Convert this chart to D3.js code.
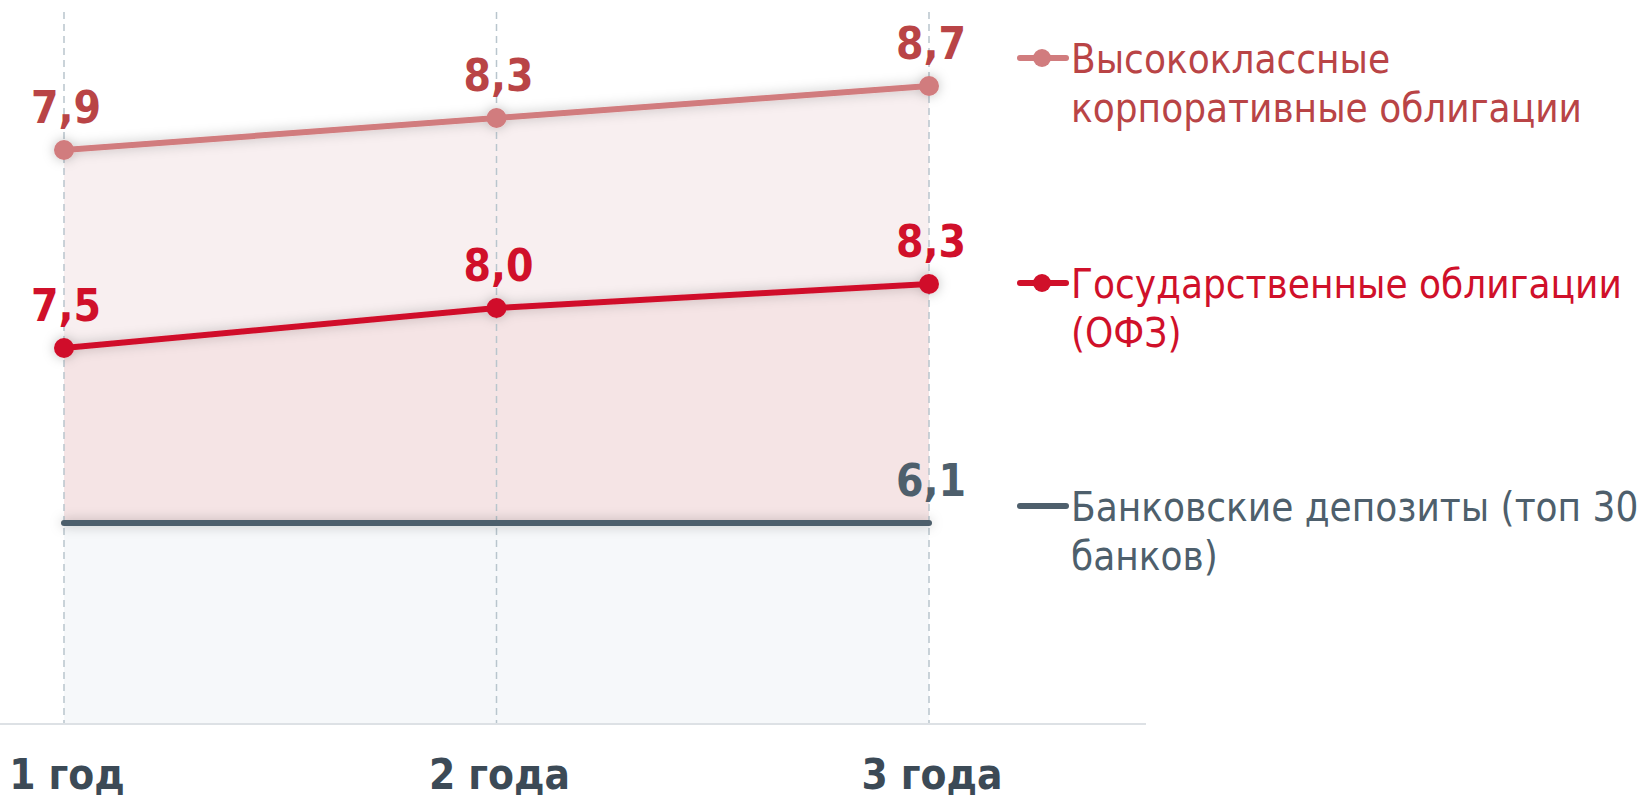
<!DOCTYPE html>
<html>
<head>
<meta charset="utf-8">
<script src="https://cdn.jsdelivr.net/npm/d3@7"></script>
<style>
  html, body { margin: 0; padding: 0; background: #fff; }
  svg { display: block; font-family: "DejaVu Sans Condensed", "DejaVu Sans", sans-serif; }
</style>
</head>
<body>
<div id="chart"></div>
<script>
// data
var categories = ["1 год", "2 года", "3 года"];
var corpValues = [7.9, 8.3, 8.7];
var ofzValues = [7.5, 8.0, 8.3];
var depoValues = [6.1, 6.1, 6.1];
var corpName = ["Высококлассные", "корпоративные облигации"];
var ofzName = ["Государственные облигации", "(ОФЗ)"];
var depoName = ["Банковские депозиты (топ 30", "банков)"];

var width = 1649, height = 800;
var axisY = 724;
var pxPerUnit = 80;

var svg = d3.select("#chart").append("svg")
    .attr("width", width)
    .attr("height", height);

// soft glow under lines; user space so the flat line still gets it
var defs = svg.append("defs");
var f = defs.append("filter").attr("id", "glow")
    .attr("filterUnits", "userSpaceOnUse")
    .attr("x", 0).attr("y", 0).attr("width", width).attr("height", height);
f.append("feDropShadow")
    .attr("dx", 0).attr("dy", 0)
    .attr("stdDeviation", 6)
    .attr("flood-color", "#000")
    .attr("flood-opacity", 0.25);

var x = d3.scalePoint().domain(categories).range([64, 929]);

// each series sits on its own band of the picture, same slope
function bandScale(base, basePx) {
    return d3.scaleLinear().domain([base, base + 1]).range([basePx, basePx - pxPerUnit]);
}

var series = [
    {name: corpName, values: corpValues, y: bandScale(7.9, 150),
     line: "#d17c7e", text: "#b94446", fill: "#f8eff0", dot: true, legendY: 58},
    {name: ofzName, values: ofzValues, y: bandScale(7.5, 348),
     line: "#d0102a", text: "#d0102a", fill: "#f5e4e5", dot: true, legendY: 283},
    {name: depoName, values: depoValues, y: bandScale(6.1, 523),
     line: "#4e5f6c", text: "#4e5f6c", fill: "#f6f8fa", dot: false, labelLast: true, legendY: 506}
];

// areas under each line, back to front
series.forEach(function(s) {
    var area = d3.area()
        .x(function(d, i) { return x(categories[i]); })
        .y0(axisY)
        .y1(function(d) { return s.y(d); });
    svg.append("path")
        .datum(s.values)
        .attr("d", area)
        .attr("fill", s.fill);
});

// dashed grid
svg.append("g").selectAll("line")
    .data(categories)
    .enter().append("line")
    .attr("x1", function(d) { return x(d); })
    .attr("x2", function(d) { return x(d); })
    .attr("y1", 12)
    .attr("y2", axisY)
    .attr("stroke", "#b9c5cd")
    .attr("stroke-width", 1.5)
    .attr("stroke-dasharray", "7,5");

// baseline
svg.append("line")
    .attr("x1", 0).attr("x2", 1146)
    .attr("y1", axisY).attr("y2", axisY)
    .attr("stroke", "#dde1e5")
    .attr("stroke-width", 2);

// lines + dots
series.forEach(function(s) {
    var g = svg.append("g").attr("filter", "url(#glow)");
    var line = d3.line()
        .x(function(d, i) { return x(categories[i]); })
        .y(function(d) { return s.y(d); });
    g.append("path")
        .datum(s.values)
        .attr("d", line)
        .attr("fill", "none")
        .attr("stroke", s.line)
        .attr("stroke-width", 6)
        .attr("stroke-linecap", "round");
    if (s.dot) {
        g.selectAll("circle")
            .data(s.values)
            .enter().append("circle")
            .attr("cx", function(d, i) { return x(categories[i]); })
            .attr("cy", function(d) { return s.y(d); })
            .attr("r", 10)
            .attr("fill", s.line);
    }
});

// value labels
series.forEach(function(s) {
    var vals = s.values.map(function(v, i) { return {v: v, i: i}; });
    if (s.labelLast) vals = vals.slice(-1);
    svg.append("g").selectAll("text")
        .data(vals)
        .enter().append("text")
        .attr("x", function(d) { return x(categories[d.i]) + 2; })
        .attr("y", function(d) { return s.y(d.v) - 27; })
        .attr("text-anchor", "middle")
        .attr("font-size", 44)
        .attr("font-weight", "bold")
        .attr("fill", s.text)
        .text(function(d) { return d3.format(".1f")(d.v).replace(".", ","); });
});

// category labels
svg.append("g").selectAll("text")
    .data(categories)
    .enter().append("text")
    .attr("x", function(d) { return x(d) + 3; })
    .attr("y", 789)
    .attr("text-anchor", "middle")
    .attr("font-size", 42)
    .attr("font-weight", "bold")
    .attr("fill", "#3c4a56")
    .text(function(d) { return d; });

// legend
var legend = svg.append("g");
series.forEach(function(s) {
    var g = legend.append("g").attr("transform", "translate(0," + s.legendY + ")");
    g.append("line")
        .attr("x1", 1020).attr("x2", 1066)
        .attr("y1", 0).attr("y2", 0)
        .attr("stroke", s.line)
        .attr("stroke-width", 6)
        .attr("stroke-linecap", "round");
    if (s.dot) {
        g.append("circle").attr("cx", 1042).attr("cy", 0).attr("r", 9).attr("fill", s.line);
    }
    g.selectAll("text")
        .data(s.name)
        .enter().append("text")
        .attr("x", 1071)
        .attr("y", function(d, i) { return 15 + i * 49; })
        .attr("font-size", 40)
        .attr("fill", s.text)
        .text(function(d) { return d; });
});
</script>
</body>
</html>
